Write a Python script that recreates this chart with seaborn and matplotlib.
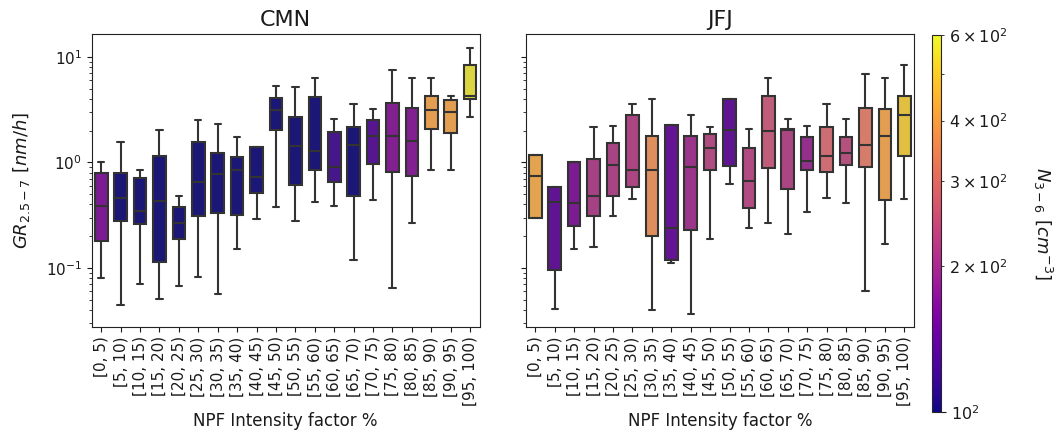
import numpy as np
import pandas as pd
import matplotlib
matplotlib.use("Agg")
import matplotlib.pyplot as plt
import seaborn as sns
from matplotlib.colors import LogNorm
from matplotlib.cm import ScalarMappable

bins = ["[0, 5)", "[5, 10)", "[10, 15)", "[15, 20)", "[20, 25)", "[25, 30)", "[30, 35)",
        "[35, 40)", "[40, 45)", "[45, 50)", "[50, 55)", "[55, 60)", "[60, 65)", "[65, 70)",
        "[70, 75)", "[75, 80)", "[80, 85)", "[85, 90)", "[90, 95)", "[95, 100)"]

# CMN growth-rate box statistics (nm/h)
cmn_low = [0.080, 0.045, 0.070, 0.051, 0.067, 0.082, 0.057, 0.151, 0.29, 0.38,
           0.28, 0.42, 0.39, 0.118, 0.44, 0.065, 0.27, 0.85, 0.85, 2.69]
cmn_q1 = [0.18, 0.28, 0.26, 0.113, 0.19, 0.31, 0.33, 0.32, 0.51, 2.01,
          0.61, 0.84, 0.65, 0.48, 0.97, 0.82, 0.75, 2.07, 1.91, 4.01]
cmn_med = [0.39, 0.46, 0.35, 0.43, 0.27, 0.66, 0.78, 0.85, 0.73, 3.16,
           1.42, 1.28, 0.90, 1.45, 1.78, 1.78, 1.60, 3.16, 3.0, 4.25]
cmn_q3 = [0.80, 0.80, 0.71, 1.16, 0.38, 1.57, 1.24, 1.12, 1.39, 4.07,
          2.69, 4.16, 1.94, 2.15, 2.52, 3.68, 3.30, 4.28, 3.90, 8.43]
cmn_high = [1.0, 1.56, 0.85, 2.04, 0.48, 2.52, 2.31, 1.75, 1.39, 5.25,
            5.14, 6.26, 2.56, 3.57, 3.23, 7.5, 6.26, 6.26, 4.28, 12.2]
cmn_n = [165, 92, 92, 92, 92, 92, 92, 92, 92, 92,
         92, 92, 120, 92, 131, 171, 171, 404, 404, 570]

# JFJ growth-rate box statistics (nm/h)
jfj_low = [0.30, 0.041, 0.152, 0.16, 0.31, 0.45, 0.040, 0.111, 0.037, 0.19,
           0.62, 0.24, 0.27, 0.21, 0.34, 0.46, 0.41, 0.060, 0.168, 0.45]
jfj_q1 = [0.30, 0.095, 0.25, 0.31, 0.48, 0.58, 0.20, 0.119, 0.23, 0.84,
          0.93, 0.37, 0.89, 0.56, 0.84, 0.82, 0.94, 0.90, 0.44, 1.16]
jfj_med = [0.75, 0.42, 0.41, 0.48, 0.94, 0.85, 0.85, 0.24, 0.90, 1.36,
           2.04, 0.67, 1.97, 2.04, 1.04, 1.16, 1.22, 1.45, 1.78, 2.81]
jfj_q3 = [1.18, 0.58, 1.0, 1.07, 1.52, 2.81, 1.78, 2.27, 1.78, 1.87,
          3.96, 1.36, 4.28, 2.07, 1.74, 2.19, 1.76, 3.30, 3.20, 4.22]
jfj_high = [1.18, 0.58, 1.0, 2.18, 2.23, 3.57, 3.96, 2.27, 2.83, 2.16,
            3.96, 2.08, 6.26, 2.56, 2.23, 3.57, 2.56, 6.83, 6.26, 8.37]
jfj_n = [419, 138, 165, 212, 216, 220, 363, 143, 198, 228,
         138, 228, 254, 220, 191, 283, 236, 315, 404, 502]

cmap = plt.get_cmap("plasma")
norm = LogNorm(vmin=100, vmax=600)


def long_frame(lo, q1, med, q3, hi):
    rows = []
    for b, vals in zip(bins, zip(lo, q1, med, q3, hi)):
        for v in vals:
            rows.append((b, v))
    return pd.DataFrame(rows, columns=["bin", "GR"])


sns.set_style("ticks")
plt.rcParams["font.family"] = ["DejaVu Sans"]
plt.rcParams["text.color"] = "#1a1a1a"
plt.rcParams["axes.labelcolor"] = "#1a1a1a"
plt.rcParams["xtick.color"] = "#1a1a1a"
plt.rcParams["ytick.color"] = "#1a1a1a"

fig = plt.figure(figsize=(10.64, 4.48), dpi=100)
ax1 = fig.add_axes([0.086, 0.271, 0.365, 0.652])
ax2 = fig.add_axes([0.494, 0.271, 0.365, 0.652])
cax = fig.add_axes([0.876, 0.081, 0.0088, 0.840])

panels = [
    (ax1, "CMN", long_frame(cmn_low, cmn_q1, cmn_med, cmn_q3, cmn_high), cmn_n),
    (ax2, "JFJ", long_frame(jfj_low, jfj_q1, jfj_med, jfj_q3, jfj_high), jfj_n),
]

for ax, title, df, nvals in panels:
    pal = {b: cmap(norm(n)) for b, n in zip(bins, nvals)}
    sns.boxplot(data=df, x="bin", y="GR", hue="bin", palette=pal, order=bins,
                hue_order=bins, ax=ax, width=0.65, whis=(0, 100), linewidth=1.5,
                linecolor="#333333", legend=False, log_scale=True, dodge=False)
    ax.set_ylim(0.0279, 16.3)
    ax.set_title(title, fontsize=16)
    ax.set_xlabel("NPF Intensity factor %", fontsize=12)
    ax.tick_params(axis="x", labelrotation=90, labelsize=11)
    ax.tick_params(axis="y", labelsize=11)
    for s in ax.spines.values():
        s.set_visible(True)
        s.set_color("#222222")

ax1.set_ylabel(r"$GR_{2.5-7}\ [nm/h]$", fontsize=13, labelpad=10)
ax2.set_ylabel("")
ax2.tick_params(axis="y", labelleft=False)

sm = ScalarMappable(norm=norm, cmap=cmap)
cb = fig.colorbar(sm, cax=cax)
cb.ax.tick_params(which="both", labelsize=11.5)
cb.set_label(r"$N_{3-6}\ [cm^{-3}]$", rotation=270, fontsize=13, labelpad=34)

fig.savefig("out.png", dpi=100)
